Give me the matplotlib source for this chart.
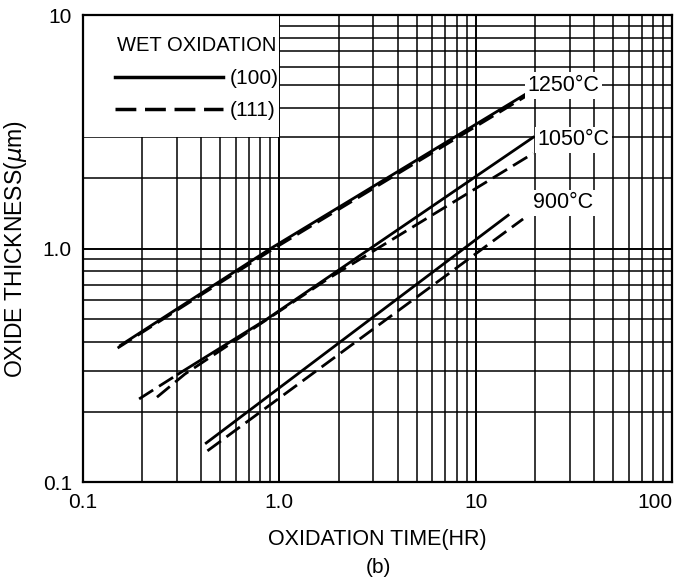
import numpy as np
import matplotlib
matplotlib.use("Agg")
import matplotlib.pyplot as plt
from matplotlib.patches import Rectangle

plt.rcParams["font.family"] = ["Liberation Sans", "DejaVu Sans"]

# Curvas de oxidacion humeda (puntos leidos sobre cada curva log-log)
temps = ["1250°C", "1050°C", "900°C"]
time_100 = [[0.155, 0.9, 18.0], [0.305, 0.866, 19.6], [0.424, 14.6]]
thick_100 = [[0.385, 1.0, 4.6], [0.29, 0.5, 3.0], [0.147, 1.39]]
time_111 = [[0.15, 0.9, 18.0], [0.238, 0.33, 1.8, 19.6], [0.43, 17.4]]
thick_111 = [[0.375, 0.98, 4.5], [0.231, 0.29, 0.75, 2.56], [0.136, 1.34]]
# tramo inicial punteado de la curva (100) a 1050
ext_time = [0.193, 0.305]
ext_thick = [0.227, 0.29]

# posiciones de etiquetas de temperatura (tiempo, espesor)
label_time = [18.3, 20.6, 19.6]
label_thick = [5.0, 2.92, 1.57]

fig = plt.figure(figsize=(6.86, 5.85), dpi=100)
ax = fig.add_axes([0.121, 0.176, 0.859, 0.798])
ax.set_xscale("log")
ax.set_yscale("log")
ax.set_xlim(0.1, 100)
ax.set_ylim(0.1, 10)

# papel log-log
ax.grid(True, which="major", color="black", linewidth=1.4)
ax.grid(True, which="minor", color="black", linewidth=1.1)
ax.tick_params(which="both", length=0, labelsize=15, pad=8)
ax.set_xticks([0.1, 1, 10, 100])
ax.set_xticklabels(["0.1", "1.0", "10", "100"])
ax.set_yticks([0.1, 1, 10])
ax.set_yticklabels(["0.1", "1.0", "10"])
ax.get_xticklabels()[-1].set_ha("right")
for s in ax.spines.values():
    s.set_linewidth(1.6)

# caja de leyenda blanca
ax.add_patch(Rectangle((0.1, 3), 0.9, 7, facecolor="white", edgecolor="none", zorder=2.5))

dash = (0, (6, 2.5))
for i in range(len(temps)):
    ax.plot(time_100[i], thick_100[i], color="black", linewidth=2.0, zorder=3)
    ax.plot(time_111[i], thick_111[i], color="black", linewidth=2.0, linestyle=dash, zorder=3)
    ax.text(label_time[i], label_thick[i], temps[i], fontsize=15.5, va="center", ha="left",
            zorder=4, bbox=dict(facecolor="white", edgecolor="none", pad=2))
ax.plot(ext_time, ext_thick, color="black", linewidth=2.0, linestyle=dash, zorder=3)

h1, = ax.plot([], [], color="black", linewidth=2.5)
h2, = ax.plot([], [], color="black", linewidth=2.5, linestyle=dash)
leg = ax.legend([h1, h2], ["(100)", "(111)"], title="WET OXIDATION", loc="upper left",
                frameon=False, fontsize=15, title_fontsize=14.5, handlelength=5.2,
                handletextpad=0.3, labelspacing=0.65, bbox_to_anchor=(0.022, 0.995))
leg.set_zorder(5)

ax.set_xlabel("OXIDATION TIME(HR)", fontsize=15.5, labelpad=12)
ax.set_ylabel("OXIDE THICKNESS($\\mu$m)", fontsize=16.5, labelpad=10)
fig.text(0.551, 0.02, "(b)", fontsize=15, ha="center")

plt.savefig("out.png", dpi=100)
